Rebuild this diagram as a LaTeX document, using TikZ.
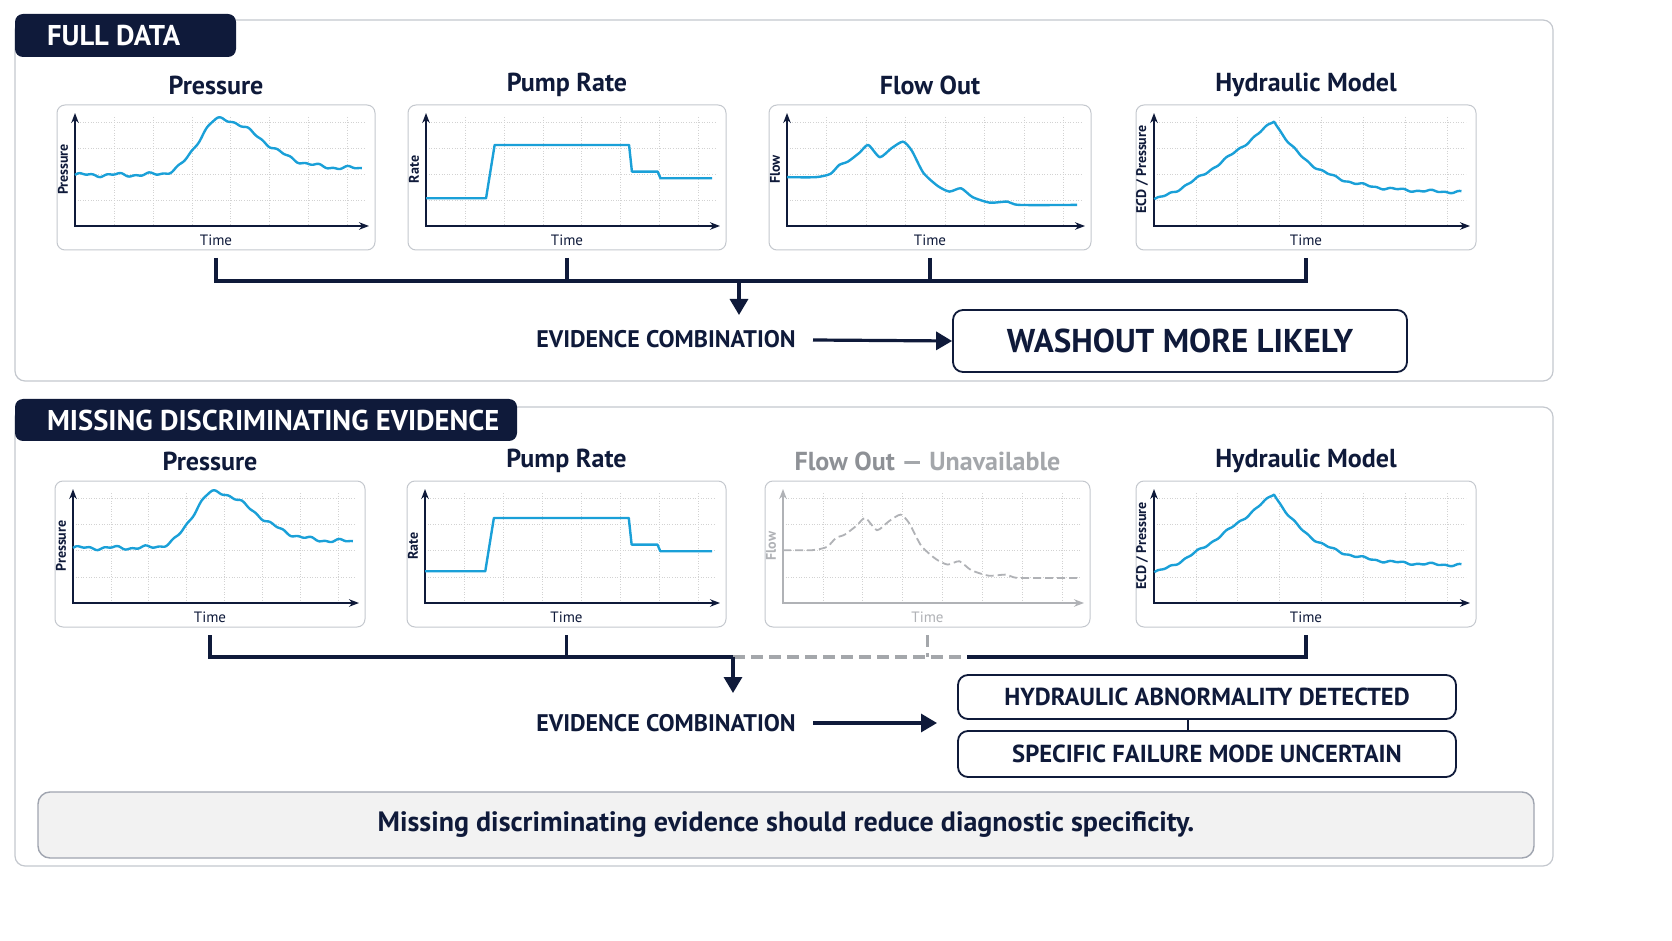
\documentclass[tikz,border=0pt]{standalone}
\usepackage{fontspec}
\setmainfont{PT Sans}
\usetikzlibrary{arrows.meta,positioning}
\definecolor{navy}{HTML}{0F1A3A}
\definecolor{curve}{HTML}{1AA0D8}
\definecolor{frame}{HTML}{C4C8CE}
\definecolor{dim}{HTML}{8E9196}
\tikzset{
  panel/.style={draw=frame,line width=0.6pt,rounded corners=5pt,fill=white},
  tab/.style={fill=navy,rounded corners=4pt},
  tabtext/.style={text=white,font=\fontsize{14.3}{16}\selectfont\bfseries,anchor=west},
  chartbox/.style={draw=frame,line width=0.5pt,rounded corners=4pt,fill=white},
  charttitle/.style={font=\fontsize{13}{15}\selectfont\bfseries,text=navy},
  gridline/.style={densely dotted,gray!35,line width=0.3pt},
  link/.style={navy,line width=1.6pt},
  lost/.style={dim!80,line width=1.6pt,dash pattern=on 6pt off 3pt},
  bigarrow/.style={navy,line width=1.6pt,-{Triangle[width=9pt,length=8pt]}},
  result/.style={draw=navy,line width=0.9pt,rounded corners=5pt,fill=white,text=navy},
  sig/.style={curve,line width=1.2pt,line join=round},
  chart/.style n args={4}{shift={(#1,#2)},x={(#3*0.5pt,0pt)},y={(0pt,#4*0.5pt)}}
}
\pgfmathdeclarefunction{presscurve}{1}{%
  \pgfmathparse{0.46+0.48*exp(-((#1-0.5)/(#1<0.5?0.1:0.2))^2)+0.06/(1+exp(-(#1-0.55)*12))+0.012*sin(#1*3100)+0.008*sin(#1*7300)}}
\pgfmathdeclarefunction{hydcurve}{1}{%
  \pgfmathparse{(#1<0.39?0.24+0.71*(#1/0.39)^1.3:0.3+0.65*exp(-(#1-0.39)/0.13))+0.008*sin(#1*3300)+0.006*sin(#1*8100)}}
\def\ratepts{(0,0.25) (0.21,0.25) (0.24,0.73) (0.71,0.73) (0.72,0.49) (0.81,0.49) (0.82,0.43) (1,0.43)}
\def\flowpts{(0,0.44) (0.1,0.44) (0.15,0.47) (0.18,0.55) (0.21,0.58) (0.25,0.66) (0.28,0.73) (0.32,0.62) (0.36,0.7) (0.4,0.76) (0.43,0.68) (0.47,0.48) (0.52,0.36) (0.56,0.31) (0.6,0.34) (0.64,0.26) (0.7,0.21) (0.76,0.22) (0.8,0.19) (1,0.19)}
% chart frame: x1 y1 x2 y2 title ylabel colour name
\newcommand\chart[8]{%
  \draw[chartbox] (#1,#2) rectangle (#3,#4);
  \node[charttitle] (#8-t) at ({(#1+#3)/2},{#2-20}) {#5};
  \foreach \f in {1,...,7}
    \draw[gridline] ({#1+18+\f*(#3-#1-26)/7.5},{#2+12}) -- ({#1+18+\f*(#3-#1-26)/7.5},{#4-24});
  \foreach \f in {1,...,4}
    \draw[gridline] ({#1+18},{#4-24-\f*(#4-#2-36)/4.2}) -- ({#3-10},{#4-24-\f*(#4-#2-36)/4.2});
  \draw[#7,line width=0.9pt,{Stealth[length=5pt]}-{Stealth[length=5pt]}] ({#1+18},{#2+8}) -- ({#1+18},{#4-24}) -- ({#3-6},{#4-24});
  \node[#7,rotate=90,font=\fontsize{7}{8}\selectfont\bfseries] at ({#1+6},{(#2+#4)/2-8}) {#6};
  \node[#7,font=\fontsize{7.5}{9}\selectfont] at ({(#1+#3)/2},{#4-10}) {Time};
  \coordinate (#8) at ({(#1+#3)/2},{#4+8});
}
\begin{document}
\begin{tikzpicture}[x=0.5pt,y=-0.5pt]
% full data
\draw[panel] (15,20) rectangle (1553,381);
\fill[tab] (15,14) rectangle (236,57);
\node[tabtext] (tab1) at (40,36) {FULL DATA};
\chart{57}{105}{375}{250}{Pressure}{Pressure}{navy}{p1}
\chart{408}{105}{726}{250}{Pump Rate}{Rate}{navy}{r1}
\chart{769}{105}{1091}{250}{Flow Out}{Flow}{navy}{f1}
\chart{1136}{105}{1476}{250}{Hydraulic Model}{ECD / Pressure}{navy}{h1}
\begin{scope}[chart={75}{226}{287}{111}]
  \draw[sig] plot[domain=0:1,samples=160,variable=\t] (\t,{presscurve(\t)});
\end{scope}
\begin{scope}[chart={426}{226}{286}{111}]
  \draw[sig] plot coordinates {\ratepts};
\end{scope}
\begin{scope}[chart={787}{226}{290}{111}]
  \draw[sig] plot[smooth,tension=0.4] coordinates {\flowpts};
\end{scope}
\begin{scope}[chart={1154}{226}{308}{111}]
  \draw[sig] plot[domain=0.001:1,samples=160,variable=\t] (\t,{hydcurve(\t)});
\end{scope}
\coordinate (j1) at (739,281);
\draw[link] (p1) |- (h1 |- j1) -- (h1);
\draw[link] (r1) -- (r1 |- j1);
\draw[link] (f1) -- (f1 |- j1);
\node[font=\fontsize{12}{14}\selectfont\bfseries,text=navy] (ev1) at (666,339) {EVIDENCE COMBINATION};
\draw[bigarrow] (j1) -- ++(0,34) coordinate (d1);
\node[result,minimum width=227pt,minimum height=31pt,font=\fontsize{16.5}{18}\selectfont\bfseries] (out1) at (1180,341) {WASHOUT MORE LIKELY};
\draw[bigarrow] (813,340) -- (out1.west);
% missing evidence
\draw[panel] (15,407) rectangle (1553,866);
\fill[tab] (15,399) rectangle (517,441);
\node[tabtext] (tab2) at (40,420) {MISSING DISCRIMINATING EVIDENCE};
\chart{55}{481}{365}{627}{Pressure}{Pressure}{navy}{p2}
\chart{407}{481}{726}{627}{Pump Rate}{Rate}{navy}{r2}
\chart{765}{481}{1090}{627}{\textcolor{dim}{Flow Out} \textcolor{dim!80}{— Unavailable}}{Flow}{dim!70}{f2}
\chart{1136}{481}{1476}{627}{Hydraulic Model}{ECD / Pressure}{navy}{h2}
\begin{scope}[chart={73}{599}{280}{111}]
  \draw[sig] plot[domain=0:1,samples=160,variable=\t] (\t,{presscurve(\t)});
\end{scope}
\begin{scope}[chart={425}{599}{287}{111}]
  \draw[sig] plot coordinates {\ratepts};
\end{scope}
\begin{scope}[chart={783}{599}{294}{111}]
  \draw[dim!70,line width=0.9pt,dash pattern=on 4pt off 2pt] plot[smooth,tension=0.4] coordinates {\flowpts};
\end{scope}
\begin{scope}[chart={1154}{599}{308}{111}]
  \draw[sig] plot[domain=0.001:1,samples=160,variable=\t] (\t,{hydcurve(\t)});
\end{scope}
\coordinate (j2) at (733,657);
\coordinate (g2) at (967,657);
\draw[link] (p2) |- (j2);
\draw[link] (r2) -- (r2 |- j2);
\draw[lost] (j2) -- (g2);
\draw[lost] (f2) -- (f2 |- j2);
\draw[link] (g2) -| (h2);
\node[font=\fontsize{12}{14}\selectfont\bfseries,text=navy] (ev2) at (666,723) {EVIDENCE COMBINATION};
\draw[bigarrow] (j2) -- ++(0,36) coordinate (d2);
\node[result,minimum width=249pt,minimum height=22pt,font=\fontsize{12.3}{14}\selectfont\bfseries] (out2) at (1207,697) {HYDRAULIC ABNORMALITY DETECTED};
\node[result,minimum width=249pt,minimum height=23pt,font=\fontsize{12.3}{14}\selectfont\bfseries] (out3) at (1207,754) {SPECIFIC FAILURE MODE UNCERTAIN};
\draw[navy,line width=1.4pt] (out2.south -| 1188,0) -- (out3.north -| 1188,0);
\draw[bigarrow] (813,723) -- (937,723);
\node[draw=frame!80!navy,line width=0.7pt,rounded corners=6pt,fill=gray!10,minimum width=748pt,minimum height=33pt,text=navy,font=\fontsize{14}{16}\selectfont\bfseries] (note) at (786,825) {Missing discriminating evidence should reduce diagnostic specificity.};
\pgfresetboundingbox
\useasboundingbox (0,0) rectangle (1672,941);
\end{tikzpicture}
\end{document}
